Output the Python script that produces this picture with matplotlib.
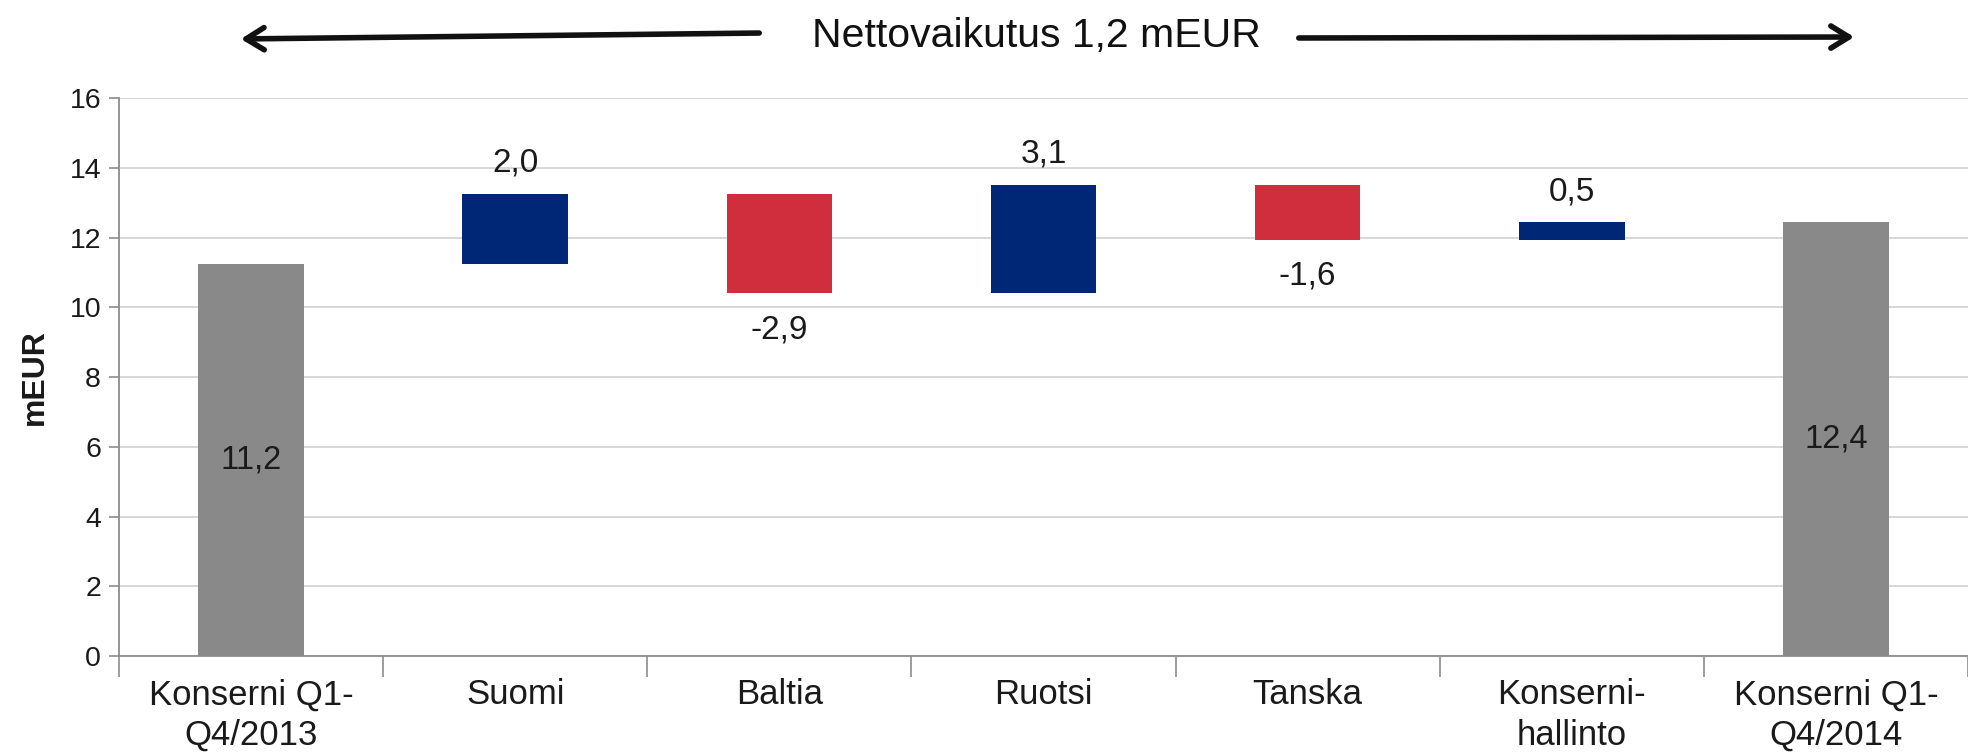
import numpy as np
import matplotlib
matplotlib.use("Agg")
import matplotlib.pyplot as plt
from matplotlib.patches import FancyArrowPatch

categories = ["Konserni Q1-\nQ4/2013", "Suomi", "Baltia", "Ruotsi", "Tanska",
              "Konserni-\nhallinto", "Konserni Q1-\nQ4/2014"]
start_value = 11.23
deltas = [2.03, -2.86, 3.12, -1.58, 0.50]
end_value = 12.44
y_ticks = [0, 2, 4, 6, 8, 10, 12, 14, 16]
title_text = "Nettovaikutus 1,2 mEUR"
y_label = "mEUR"

NAVY = "#002776"
RED = "#D02E3C"
GRAY = "#898989"
TXT = "#1a1a1a"

plt.rcParams["font.family"] = ["Liberation Sans", "Arimo", "DejaVu Sans"]

fig = plt.figure(figsize=(19.68, 7.55), dpi=100)
ax = fig.add_axes([0.0605, 0.131, 0.9395, 0.739])

x = np.arange(len(categories))
w = 0.4
cum = start_value + np.cumsum(deltas)
prev = np.concatenate([[start_value], cum[:-1]])

# totals
ax.bar(x[0], start_value, width=w, color=GRAY, zorder=3)
ax.bar(x[-1], end_value, width=w, color=GRAY, zorder=3)
for v, xx in ((start_value, x[0]), (end_value, x[-1])):
    ax.text(xx, v / 2, f"{v:.1f}".replace(".", ","), ha="center", va="center",
            fontsize=23.5, color=TXT, zorder=4)

for i, d in enumerate(deltas):
    xi = x[i + 1]
    lo = min(prev[i], cum[i])
    ax.bar(xi, abs(d), bottom=lo, width=w, color=NAVY if d > 0 else RED, zorder=3)
    lab = f"{d:.1f}".replace(".", ",")
    if d > 0:
        ax.annotate(lab, (xi, lo + abs(d)), xytext=(0, 16), textcoords="offset points",
                    ha="center", va="baseline", fontsize=24, color=TXT)
    else:
        ax.annotate(lab, (xi, lo), xytext=(0, -15), textcoords="offset points",
                    ha="center", va="top", fontsize=24, color=TXT)

ax.set_ylim(0, 16)
ax.set_xlim(-0.5, len(categories) - 0.5)
ax.set_yticks(y_ticks)
ax.set_yticklabels([str(t) for t in y_ticks], fontsize=20.5, color=TXT)
ax.yaxis.grid(True, color="#d4d4d4", linewidth=1.3, zorder=0)
ax.set_axisbelow(True)
ax.tick_params(axis="y", length=7, width=1.2, color="#8c8c8c", pad=6)

ax.set_xticks(x)
ax.set_xticklabels(categories, fontsize=25, color=TXT, linespacing=1.3)
ax.tick_params(axis="x", length=0, pad=16)
ax.set_xticks(np.arange(len(categories) + 1) - 0.5, minor=True)
ax.tick_params(axis="x", which="minor", length=15, width=1.2, color="#8c8c8c")

for s in ("top", "right"):
    ax.spines[s].set_visible(False)
for s in ("left", "bottom"):
    ax.spines[s].set_color("#8c8c8c")
    ax.spines[s].set_linewidth(1.3)

ax.set_ylabel(y_label, fontsize=23, fontweight="bold", color=TXT, labelpad=14)

# header with arrows
fig.text(1036 / 1968, 1 - 36 / 755, title_text, ha="center", va="center",
         fontsize=29.5, color="#111111")
fig.add_artist(FancyArrowPatch(
    (762 / 1968, 1 - 33 / 755), (238 / 1968, 1 - 39 / 755), transform=fig.transFigure,
    arrowstyle="->,head_length=13,head_width=8", lw=4, color="#111111", mutation_scale=1))
fig.add_artist(FancyArrowPatch(
    (1296 / 1968, 1 - 38 / 755), (1857 / 1968, 1 - 37 / 755), transform=fig.transFigure,
    arrowstyle="->,head_length=13,head_width=8", lw=4, color="#111111", mutation_scale=1))

fig.savefig("out.png", dpi=100, facecolor="white")
